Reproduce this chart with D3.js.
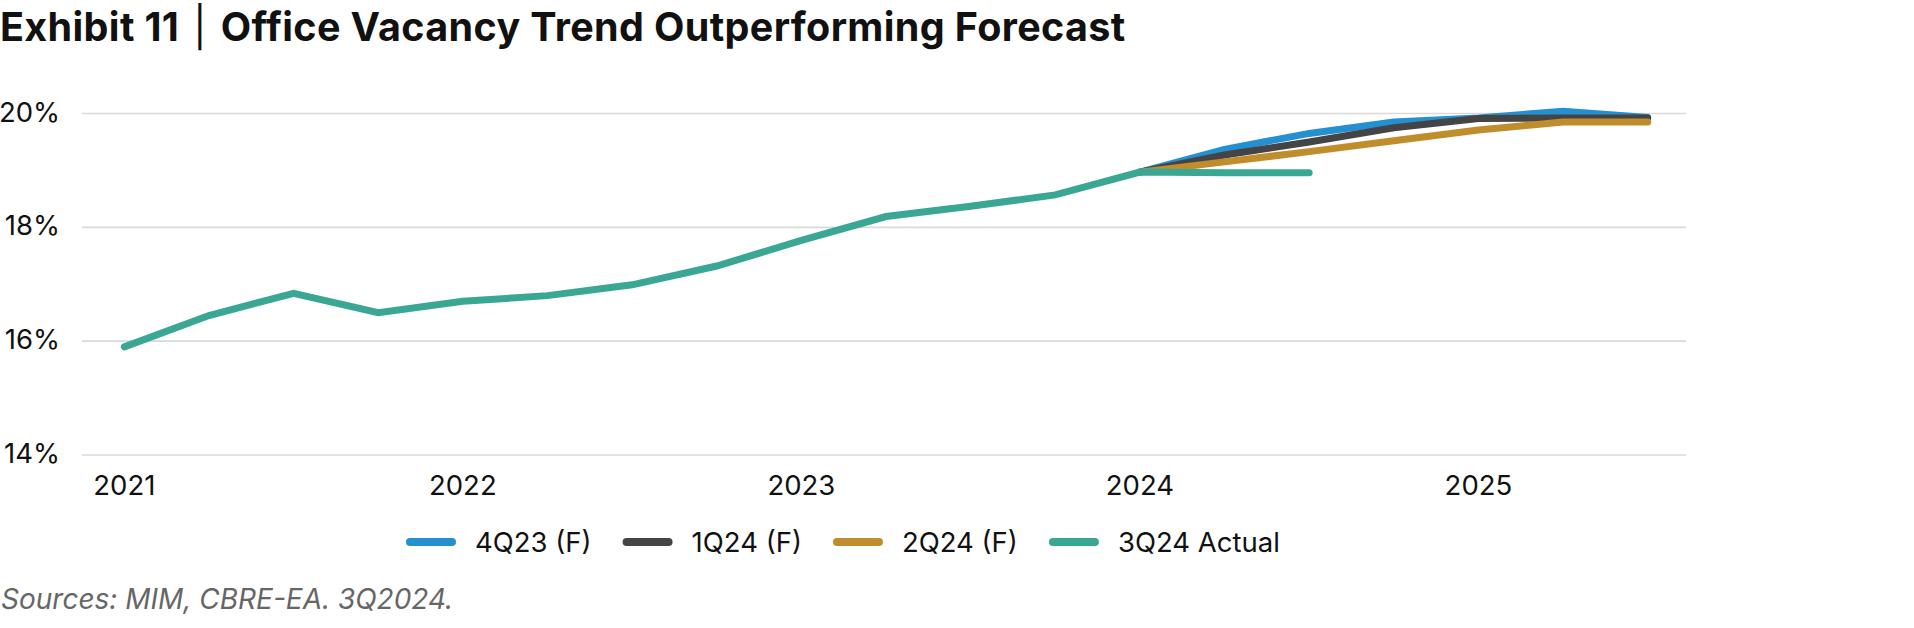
<!DOCTYPE html>
<html>
<head>
<meta charset="utf-8">
<script src="https://cdn.jsdelivr.net/npm/d3@7/dist/d3.min.js"></script>
<style>
  html, body { margin: 0; padding: 0; background: #fff; }
  svg { display: block; }
</style>
</head>
<body>
<svg id="chart" width="1914" height="628"></svg>
<script>
// ---- data ----
const quarters = ["2021Q1","2021Q2","2021Q3","2021Q4","2022Q1","2022Q2","2022Q3","2022Q4",
                  "2023Q1","2023Q2","2023Q3","2023Q4","2024Q1","2024Q2","2024Q3","2024Q4",
                  "2025Q1","2025Q2","2025Q3"];
const yearLabels = ["2021","2022","2023","2024","2025"];
const yearQuarters = ["2021Q1","2022Q1","2023Q1","2024Q1","2025Q1"];
const yTicks = [14, 16, 18, 20];

const actualQuarters = quarters.slice(0, 15);
const actual = [15.9, 16.45, 16.84, 16.5, 16.7, 16.8, 16.99, 17.32, 17.77, 18.19, 18.37, 18.57, 18.97, 18.96, 18.96];

const forecastQuarters = quarters.slice(12);
const f4Q23 = [18.97, 19.37, 19.65, 19.85, 19.92, 20.04, 19.93];
const f1Q24 = [18.97, 19.27, 19.5, 19.75, 19.91, 19.92, 19.92];
const f2Q24 = [18.97, 19.15, 19.33, 19.52, 19.71, 19.85, 19.85];

const seriesNames = ["4Q23 (F)", "1Q24 (F)", "2Q24 (F)", "3Q24 Actual"];
const seriesColors = ["#2490D0", "#444446", "#C08D2D", "#39A794"];

const titleLeft = "Exhibit 11";
const titleRight = "Office Vacancy Trend Outperforming Forecast";
const sourceText = "Sources: MIM, CBRE-EA. 3Q2024.";

// ---- chart ----
const svg = d3.select("#chart");
const FONT = "Inter, 'Noto Sans', sans-serif";

const x = d3.scalePoint().domain(quarters).range([82, 1690]).padding(0.5);
const y = d3.scaleLinear().domain([14, 20]).range([455, 113.5]);
const gridX0 = 82, gridX1 = 1686;

// title
const title = svg.append("text")
  .attr("x", 0).attr("y", 41)
  .attr("font-family", FONT).attr("font-weight", 700)
  .attr("font-size", 39.5).attr("letter-spacing", 0.35).attr("fill", "#111");
title.append("tspan").text(titleLeft);
title.append("tspan").attr("dx", 14).attr("font-weight", 400).text("|");
title.append("tspan").attr("dx", 14).text(titleRight);

// gridlines
svg.append("g").selectAll("line").data(yTicks).join("line")
  .attr("x1", gridX0).attr("x2", gridX1)
  .attr("y1", d => y(d)).attr("y2", d => y(d))
  .attr("stroke", "#d9d9d9").attr("stroke-width", 1.6);

// y labels
svg.append("g").selectAll("text").data(yTicks).join("text")
  .attr("x", 60).attr("y", d => y(d) + 8)
  .attr("text-anchor", "end")
  .attr("font-family", FONT).attr("font-size", 27.5).attr("fill", "#111")
  .text(d => d + "%");

// x labels
svg.append("g").selectAll("text").data(yearQuarters).join("text")
  .attr("x", d => x(d)).attr("y", 495)
  .attr("text-anchor", "middle")
  .attr("font-family", FONT).attr("font-size", 27.5).attr("fill", "#111")
  .text((d, i) => yearLabels[i]);

const line = d3.line().x(d => x(d.q)).y(d => y(d.v));
const mk = (qs, vs) => qs.map((q, i) => ({ q, v: vs[i] }));

const series = [
  mk(forecastQuarters, f4Q23),
  mk(forecastQuarters, f1Q24),
  mk(forecastQuarters, f2Q24),
  mk(actualQuarters, actual)
];

svg.append("g").selectAll("path").data(series).join("path")
  .attr("d", line)
  .attr("fill", "none")
  .attr("stroke", (d, i) => seriesColors[i])
  .attr("stroke-width", 7)
  .attr("stroke-linecap", "round")
  .attr("stroke-linejoin", "miter");

// legend
const legend = svg.append("g");
let lx = 406;
const ly = 542;
seriesNames.forEach((name, i) => {
  legend.append("line")
    .attr("x1", lx + 4).attr("x2", lx + 46)
    .attr("y1", ly).attr("y2", ly)
    .attr("stroke", seriesColors[i]).attr("stroke-width", 8)
    .attr("stroke-linecap", "round");
  const t = legend.append("text")
    .attr("x", lx + 69).attr("y", ly + 10)
    .attr("font-family", FONT).attr("font-size", 27.5).attr("fill", "#111")
    .text(name);
  lx = lx + 69 + t.node().getComputedTextLength() + 31;
});

// source
svg.append("text")
  .attr("x", 1).attr("y", 609)
  .attr("font-family", FONT).attr("font-style", "italic")
  .attr("font-size", 28).attr("fill", "#666")
  .text(sourceText);
</script>
</body>
</html>
